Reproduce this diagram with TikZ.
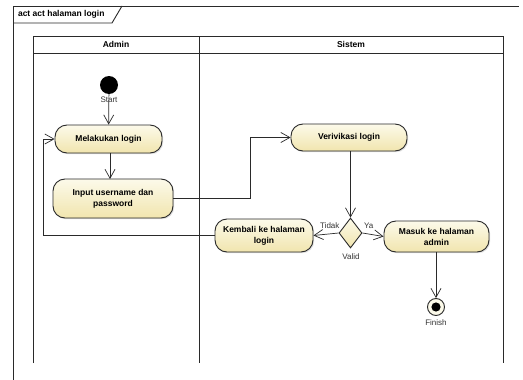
\documentclass[tikz,border=0pt]{standalone}
\usepackage{fontspec}
\setmainfont{Liberation Sans}
\usetikzlibrary{arrows.meta,shapes.geometric,shadows}
\definecolor{actTop}{HTML}{FCFAEA}
\definecolor{actBot}{HTML}{F1E5AE}
\definecolor{edge}{HTML}{2A2A2A}
\tikzset{
  action/.style={draw=edge, line width=0.9pt, rounded corners=12pt,
    top color=actTop, bottom color=actBot, align=center,
    font=\fontsize{8.5}{11}\selectfont\bfseries, inner sep=2pt,
    drop shadow={shadow xshift=1.2pt, shadow yshift=-1.2pt, opacity=0.25}},
  flow/.style={draw=edge, line width=0.7pt,
    -{Straight Barb[length=9pt,width=10pt,line width=0.7pt]}},
  lane/.style={draw=edge, line width=0.9pt},
  small/.style={font=\fontsize{8}{9.5}\selectfont, text=black!80},
  lanehead/.style={font=\fontsize{8.5}{10}\selectfont\bfseries}
}
\begin{document}
\begin{tikzpicture}[x=1pt,y=-1pt]
\useasboundingbox (0,0) rectangle (523,380);
\fill[white] (0,0) rectangle (523,380);

% diagram frame with its name tab
\draw[lane] (13,380) -- (13,6) -- (519,6);
\draw[lane] (13,23) -- (112,23) -- (122,6);
\node[anchor=west, font=\fontsize{8.5}{10}\selectfont\bfseries] (frametitle) at (14.5,14.5) {act act halaman login};

% swimlanes
\draw[lane] (33,363) -- (33,36) -- (503,36) -- (503,363);
\draw[lane] (33,53) -- (503,53);
\draw[lane] (199,36) -- (199,363);
\node[lanehead] (admin) at (116,44.5) {Admin};
\node[lanehead] (sistem) at (351,44.5) {Sistem};

% initial and final nodes
\node[circle, fill=black, minimum size=18pt, inner sep=0] (start) at (109,85) {};
\node[small, anchor=north] (startlbl) at (109,93) {Start};
\node[circle, draw=edge, line width=0.9pt, fill=actTop, minimum size=17pt, inner sep=0] (finish) at (436,307) {};
\fill[black] (finish.center) circle (4.6pt);
\node[small, anchor=north] (finishlbl) at (436,316) {Finish};

% actions
\node[action, minimum width=107pt, minimum height=28pt] (login) at (108.5,139) {Melakukan login};
\node[action, minimum width=120pt, minimum height=39pt] (input) at (113,198.5) {Input username dan\\password};
\node[action, minimum width=116pt, minimum height=27pt] (verif) at (349,137.5) {Verivikasi login};
\node[action, minimum width=98pt, minimum height=33pt] (back) at (264,235.5) {Kembali ke halaman\\login};
\node[action, minimum width=105pt, minimum height=31pt] (admin) at (436.5,236.5) {Masuk ke halaman\\admin};

% decision
\node[diamond, draw=edge, line width=0.9pt, top color=actTop, bottom color=actBot,
  minimum width=23pt, minimum height=30pt, inner sep=0] (valid) at (350.5,233) {};
\node[small, anchor=north] (validlbl) at (351,250) {Valid};

% routing points
\coordinate (c1) at (250,198.5);
\coordinate (c2) at (43,139);

% flows
\draw[flow] (start) -- (login);
\draw[flow] (login.south -| 110,0) -- (110,179);
\draw[flow] (input.east) -- (c1) |- (verif.west);
\draw[flow] (verif.south -| valid.north) -- (valid.north);
\draw[flow] (valid.west) -- node[small, above, pos=0.35, yshift=2pt] {Tidak} (back.east);
\draw[flow] (valid.east) -- node[small, above, pos=0.3, yshift=2pt] {Ya} (admin.west);
\draw[flow] (admin.south -| finish.north) -- (finish.north);
\draw[flow] (back.west) -| (c2) -- (login.west);
\end{tikzpicture}
\end{document}
